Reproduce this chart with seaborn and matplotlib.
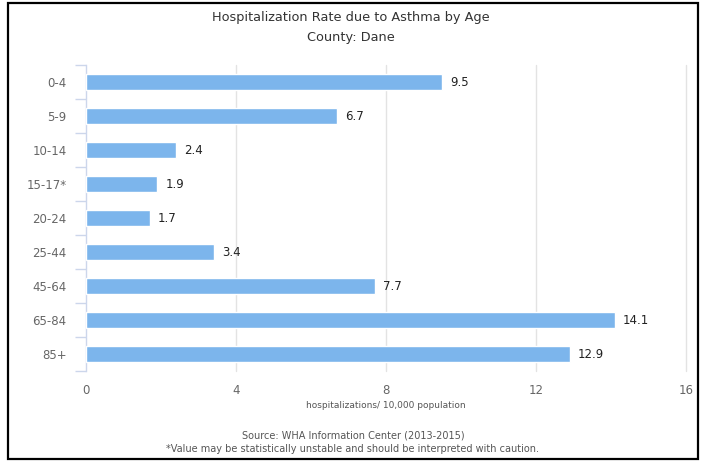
import matplotlib
matplotlib.use("Agg")
import matplotlib.pyplot as plt
from matplotlib.patches import Rectangle
import seaborn as sns
import pandas as pd

age_groups = ["0-4", "5-9", "10-14", "15-17*", "20-24", "25-44", "45-64", "65-84", "85+"]
rates = [9.5, 6.7, 2.4, 1.9, 1.7, 3.4, 7.7, 14.1, 12.9]
x_ticks = [0, 4, 8, 12, 16]

title = "Hospitalization Rate due to Asthma by Age"
subtitle = "County: Dane"
x_title = "hospitalizations/ 10,000 population"
source = "Source: WHA Information Center (2013-2015)"
note = "*Value may be statistically unstable and should be interpreted with caution."

df = pd.DataFrame({"age": age_groups, "rate": rates})

sns.set_style("white")
plt.rcParams["font.family"] = ["DejaVu Sans"]

W, H = 702, 462
fig = plt.figure(figsize=(W / 100, H / 100), dpi=100)
ax = fig.add_axes([86 / W, 1 - 371 / H, 600 / W, 306 / H])

sns.barplot(data=df, x="rate", y="age", orient="h", color="#7cb5ec",
            saturation=1, width=0.46, ax=ax, zorder=3)

ax.set_xlim(0, 16)
ax.set_ylim(len(age_groups) - 0.5, -0.5)
ax.set_xticks(x_ticks)
ax.set_xticklabels([str(t) for t in x_ticks])
ax.set_xlabel("")
ax.set_ylabel("")

# vertical grid
for t in x_ticks[1:]:
    ax.axvline(t, color="#e3e3e3", lw=1, zorder=0, clip_on=False)

for s in ["top", "right", "bottom"]:
    ax.spines[s].set_visible(False)
ax.spines["left"].set_color("#ccd6eb")
ax.spines["left"].set_linewidth(1)

# category boundary ticks
ax.set_yticks([i - 0.5 for i in range(len(age_groups) + 1)], minor=True)
ax.tick_params(axis="y", which="minor", length=8, color="#ccd6eb", width=1, left=True)
ax.tick_params(axis="y", which="major", length=0, pad=14, labelsize=8.5, labelcolor="#666666")
ax.tick_params(axis="x", which="major", length=0, pad=9, labelsize=8.5, labelcolor="#666666")

for c in ax.containers:
    ax.bar_label(c, labels=[f"{v:.1f}" for v in rates], padding=6,
                 fontsize=8.5, color="#222222")

fig.text(351 / W, 1 - 18 / H, title, ha="center", va="center", fontsize=9.3, color="#333333")
fig.text(351 / W, 1 - 37 / H, subtitle, ha="center", va="center", fontsize=9.3, color="#333333")
fig.text(386 / W, 1 - 406 / H, x_title, ha="center", va="center", fontsize=6.5, color="#555555")
fig.text(353 / W, 1 - 435 / H, source, ha="center", va="center", fontsize=7, color="#555555")
fig.text(353 / W, 1 - 449 / H, note, ha="center", va="center", fontsize=7, color="#555555")

# frame around the chart
fig.patches.append(Rectangle((8 / W, 1 - 459 / H), 690 / W, 456 / H,
                             transform=fig.transFigure, fill=False,
                             edgecolor="black", lw=1.6))

fig.savefig("out.png", dpi=100)
